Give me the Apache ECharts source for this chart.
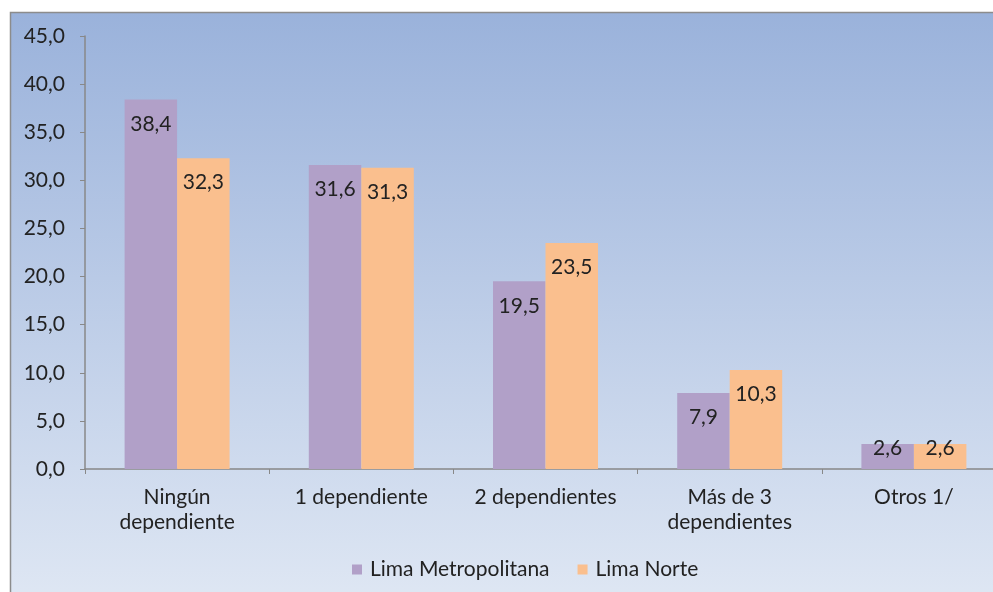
<!DOCTYPE html>
<html><head><meta charset="utf-8">
<script src="https://cdn.jsdelivr.net/npm/echarts@6/dist/echarts.min.js"></script>
<style>html,body{margin:0;padding:0;background:#fff}#c{width:993px;height:592px}</style>
</head><body><div id="c"></div>
<script>
const categories = ['Ningún\ndependiente', '1 dependiente', '2 dependientes', 'Más de 3\ndependientes', 'Otros 1/'];
const limaMetropolitana = [38.4, 31.6, 19.5, 7.9, 2.6];
const limaNorte = [32.3, 31.3, 23.5, 10.3, 2.6];
const seriesNames = ['Lima Metropolitana', 'Lima Norte'];

const fmt = v => v.toFixed(1).replace('.', ',');
const FONT = 'Lato';
const FS = 21;
// short bars: label sits near the bar top (as in the reference)
const toItems = arr => arr.map(v => v < 5 ? { value: v, label: { offset: [0, -20] } } : v);

const chart = echarts.init(document.getElementById('c'));
chart.setOption({
  animation: false,
  textStyle: { fontFamily: FONT },
  graphic: [{
    type: 'rect', z: -10, silent: true,
    shape: { x: 10.5, y: 12.5, width: 1000, height: 600 },
    style: {
      fill: new echarts.graphic.LinearGradient(0, 0, 0, 1, [
        { offset: 0, color: '#9ab2db' },
        { offset: 1, color: '#e0e8f4' }
      ]),
      stroke: '#8c8c8c', lineWidth: 1.5
    }
  }],
  grid: { left: 85, width: 921, top: 36, bottom: 123, containLabel: false, outerBoundsMode: 'none' },
  legend: {
    bottom: 7, left: 347,
    itemWidth: 10, itemHeight: 10, itemGap: 28,
    icon: 'rect',
    textStyle: { fontSize: FS, color: '#222', fontFamily: FONT, padding: [0, 0, 0, 3] }
  },
  xAxis: {
    type: 'category', data: categories,
    axisLine: { lineStyle: { color: '#888', width: 1.5 } },
    axisTick: { show: true, length: 5, lineStyle: { color: '#888' } },
    axisLabel: { fontSize: FS, color: '#222', margin: 16, lineHeight: 25, interval: 0 }
  },
  yAxis: {
    type: 'value', min: 0, max: 45, interval: 5,
    axisLine: { show: true, lineStyle: { color: '#888', width: 1.5 } },
    axisTick: { show: true, length: 5, lineStyle: { color: '#888' } },
    splitLine: { show: false },
    axisLabel: { fontSize: FS, color: '#222', margin: 20, formatter: fmt }
  },
  series: [
    {
      name: seriesNames[0], type: 'bar', data: toItems(limaMetropolitana),
      itemStyle: { color: '#b1a0c8' },
      barGap: '0%', barCategoryGap: '43%',
      label: { show: true, position: 'insideTop', distance: 14, fontSize: FS, color: '#222', formatter: p => fmt(p.value) }
    },
    {
      name: seriesNames[1], type: 'bar', data: toItems(limaNorte),
      itemStyle: { color: '#fabf8e' },
      barGap: '0%', barCategoryGap: '43%',
      label: { show: true, position: 'insideTop', distance: 14, fontSize: FS, color: '#222', formatter: p => fmt(p.value) }
    }
  ]
});
</script></body></html>
